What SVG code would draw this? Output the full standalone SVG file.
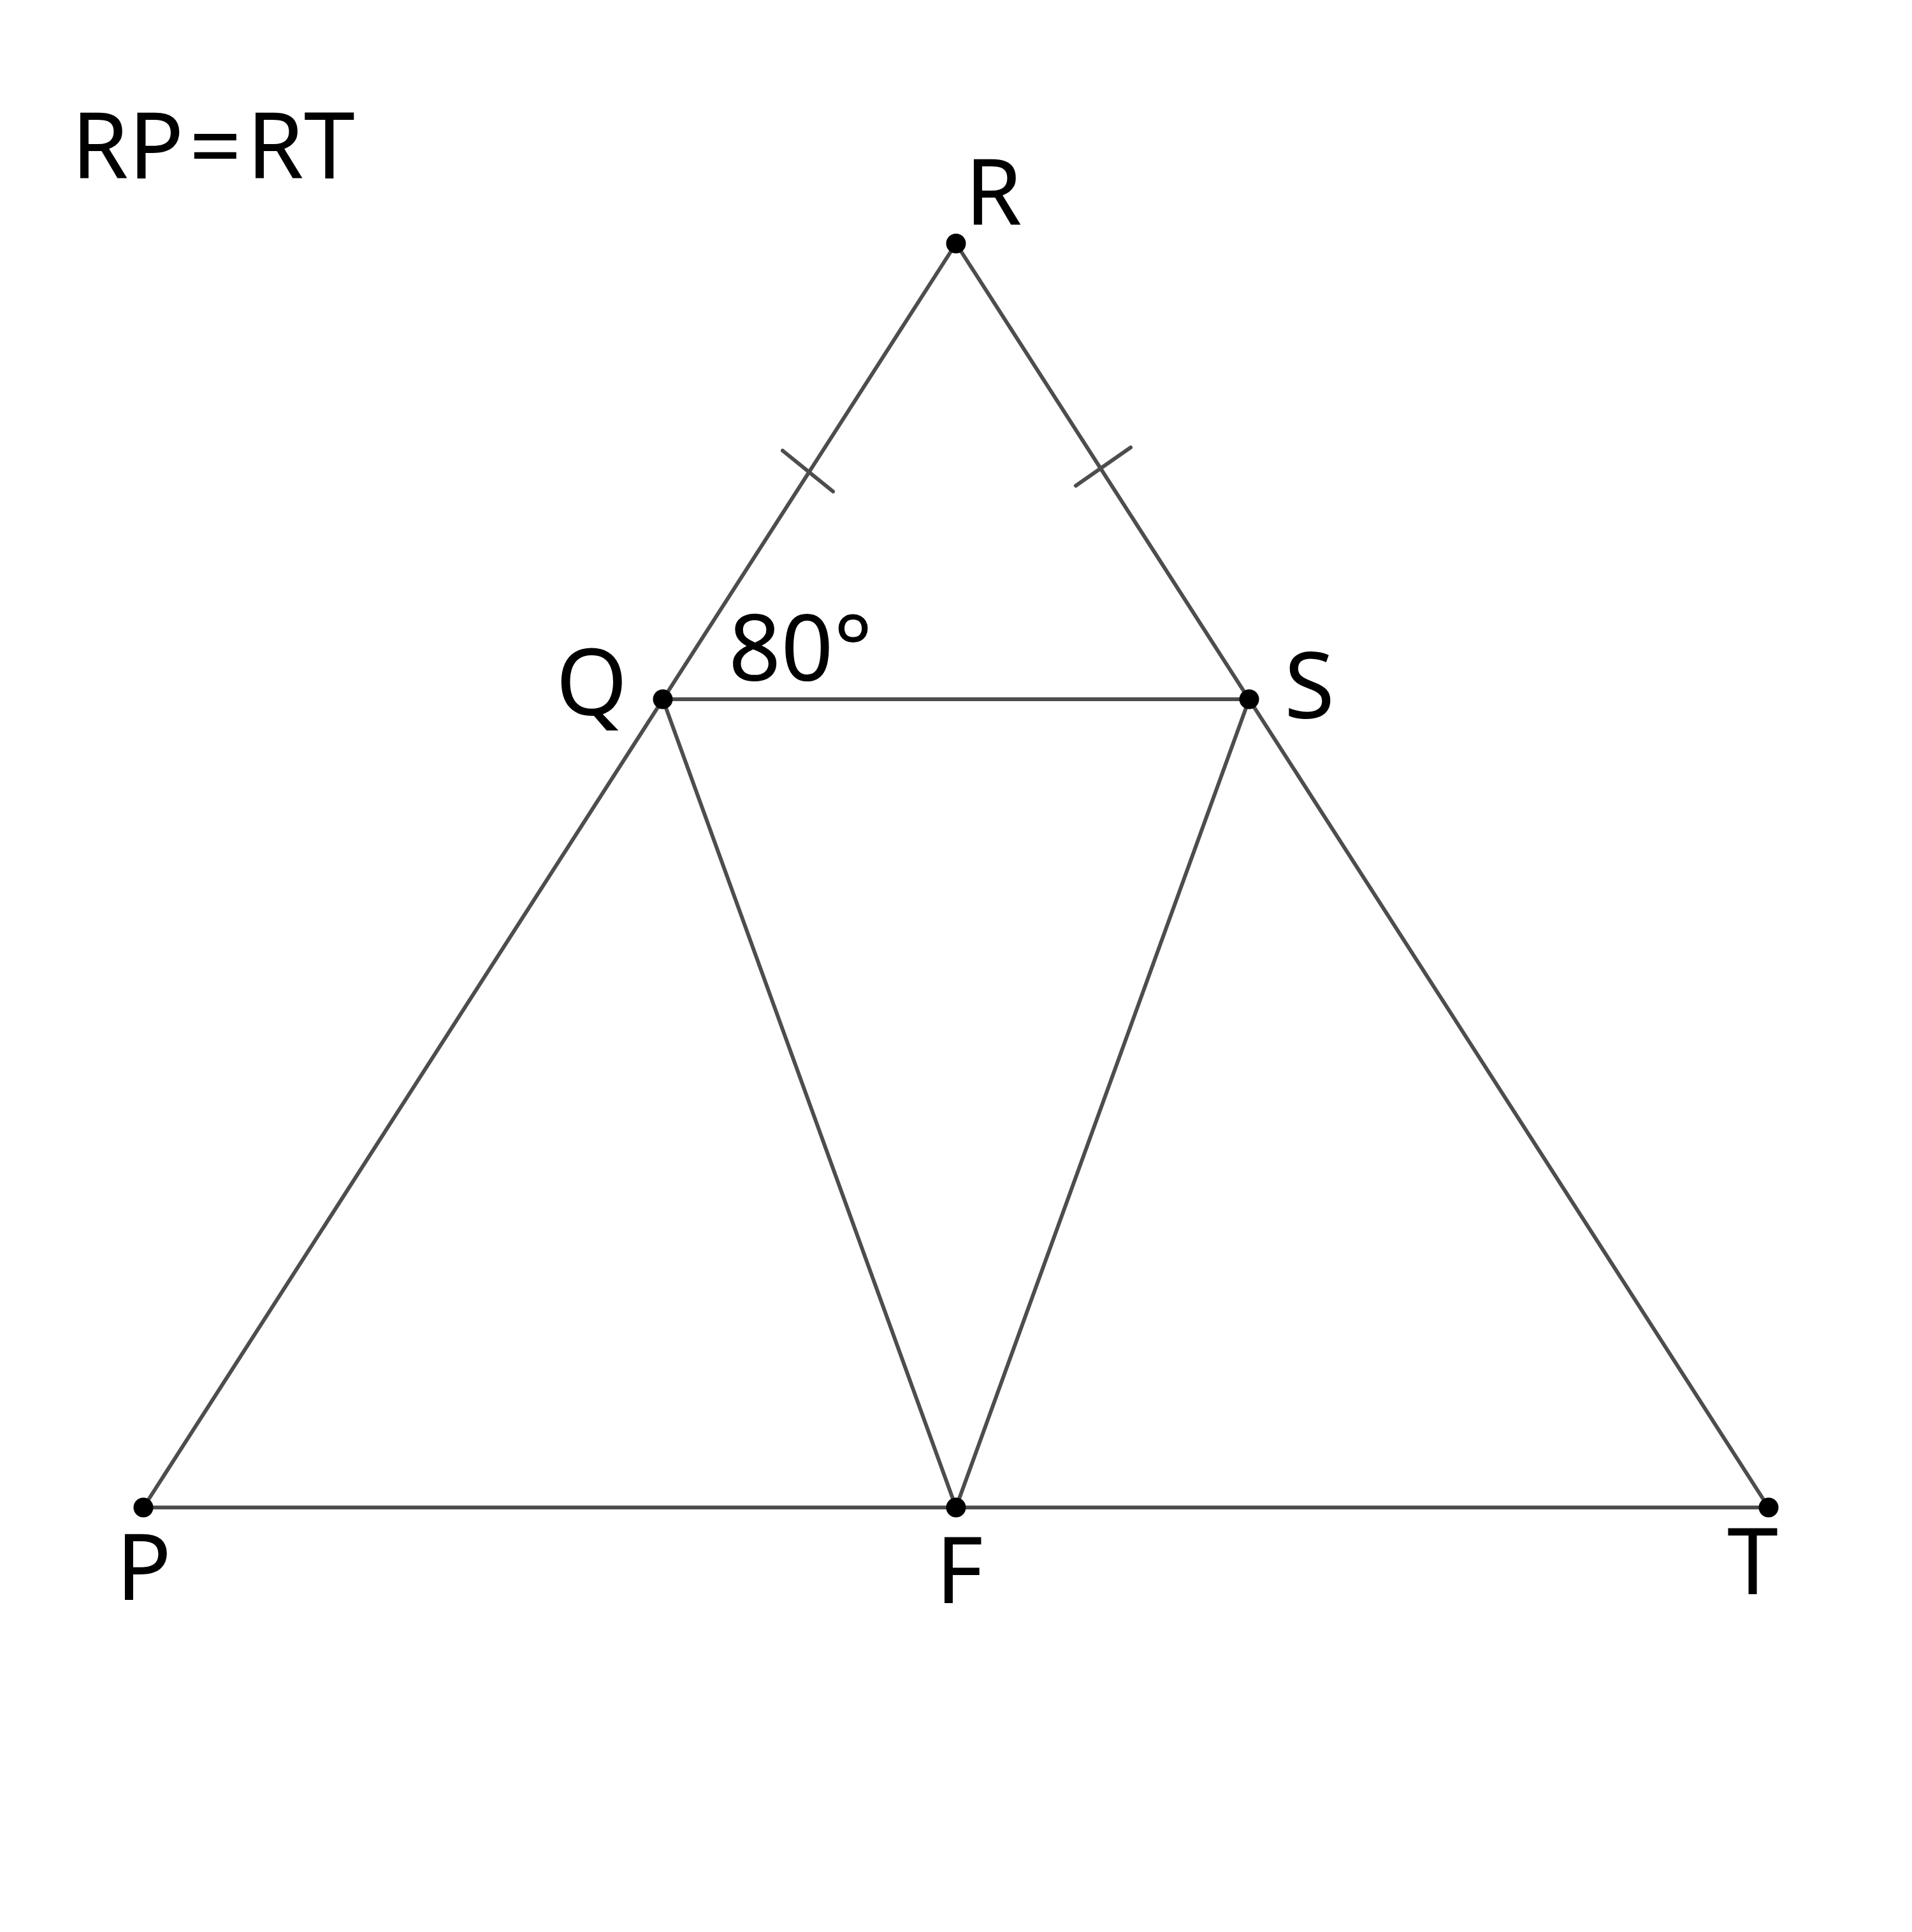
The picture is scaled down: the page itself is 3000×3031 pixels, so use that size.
<svg xmlns="http://www.w3.org/2000/svg" width="3000" height="3031" viewBox="0 0 3000 3031">
<style>
.ln{stroke:#4d4d4d;stroke-width:6;stroke-linecap:round;fill:none}
.pt{fill:#000}
.lb{font-family:"Noto Sans","Open Sans",sans-serif;font-size:144px;fill:#000}
</style>
<rect width="3000" height="3031" fill="#fff"/>
<g id="connectors">
<line class="ln" x1="1500" y1="382" x2="225" y2="2365"/>
<line class="ln" x1="1500" y1="382" x2="2775" y2="2365"/>
<line class="ln" x1="225" y1="2365" x2="2775" y2="2365"/>
<line class="ln" x1="1040" y1="1097" x2="1960" y2="1097"/>
<line class="ln" x1="1040" y1="1097" x2="1500" y2="2365"/>
<line class="ln" x1="1960" y1="1097" x2="1500" y2="2365"/>
<line class="ln" x1="1228" y1="707" x2="1307" y2="771"/>
<line class="ln" x1="1688" y1="762" x2="1774" y2="702"/>
</g>
<g id="R"><circle class="pt" cx="1500" cy="382" r="15.5"/><text class="lb" x="1514" y="353">R</text></g>
<g id="Q"><circle class="pt" cx="1040" cy="1097" r="15.5"/><text class="lb" x="872" y="1122">Q</text></g>
<g id="S"><circle class="pt" cx="1960" cy="1097" r="15.5"/><text class="lb" x="2015" y="1127">S</text></g>
<g id="P"><circle class="pt" cx="225" cy="2365" r="15.5"/><text class="lb" x="182" y="2510">P</text></g>
<g id="F"><circle class="pt" cx="1500" cy="2365" r="15.5"/><text class="lb" x="1468" y="2515">F</text></g>
<g id="T"><circle class="pt" cx="2775" cy="2365" r="15.5"/><text class="lb" x="2710" y="2501">T</text></g>
<text id="angle" class="lb" x="1143" y="1068">80°</text>
<text id="given" class="lb" x="112" y="280">RP<tspan dx="8">=</tspan><tspan dx="8">RT</tspan></text>
</svg>
